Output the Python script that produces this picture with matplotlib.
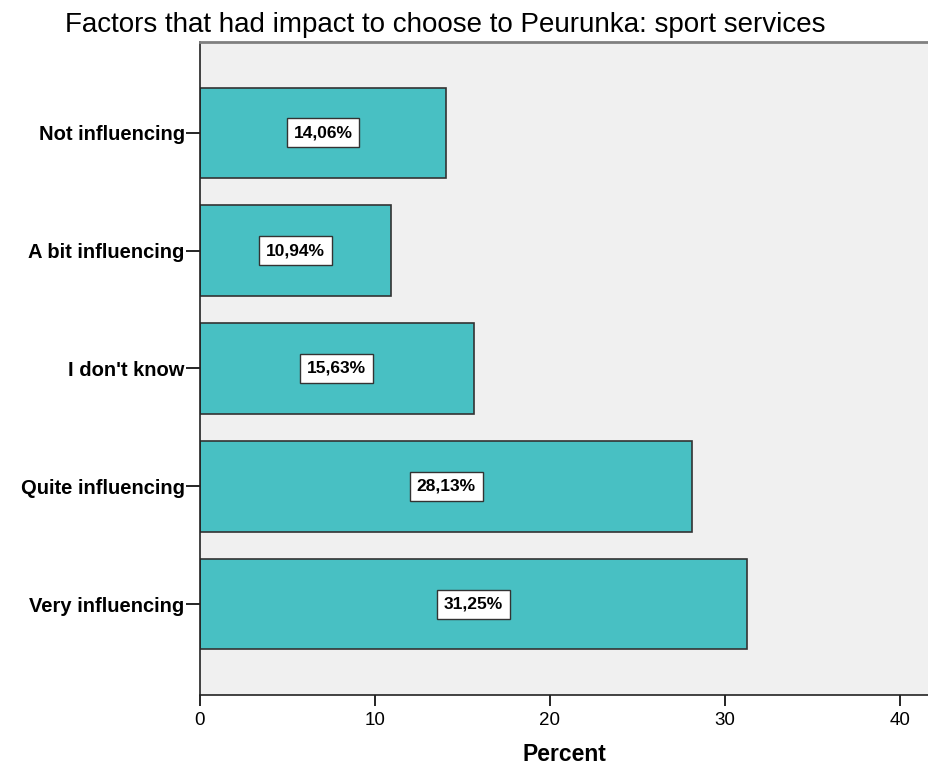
import matplotlib.pyplot as plt
import numpy as np

plt.rcParams['font.family'] = ['Liberation Sans', 'DejaVu Sans']

categories = ['Not influencing', 'A bit influencing', "I don't know",
              'Quite influencing', 'Very influencing']
percent = [14.06, 10.94, 15.63, 28.13, 31.25]
xticks = [0, 10, 20, 30, 40]

fig = plt.figure(figsize=(9.29, 7.68), dpi=100)
ax = fig.add_axes([200 / 929, 73 / 768, 1 - 200 / 929, (695 - 42) / 768])
ax.set_facecolor('#f0f0f0')

y = np.arange(len(categories))
ax.barh(y, percent, height=0.766, color='#48c0c3', edgecolor='#333333', linewidth=1.2)

for yi, v in zip(y, percent):
    ax.text(v / 2, yi, f'{v:.2f}%'.replace('.', ','), ha='center', va='center',
            fontsize=12.5, fontweight='bold',
            bbox=dict(boxstyle='square,pad=0.4', facecolor='white',
                      edgecolor='#333333', linewidth=1))

ax.set_xlim(0, 41.66)
ax.set_ylim(4.77, -0.77)
ax.set_yticks(y)
ax.set_yticklabels(categories, fontsize=14.5, fontweight='bold')
ax.set_xticks(xticks)
ax.set_xticklabels([str(t) for t in xticks], fontsize=13.5)
ax.tick_params(axis='y', length=10, width=1.2, pad=1)
ax.tick_params(axis='x', length=8, width=1.2, pad=4)

for side in ['left', 'bottom']:
    ax.spines[side].set_color('#222222')
    ax.spines[side].set_linewidth(1.2)
ax.spines['top'].set_color('#808080')
ax.spines['top'].set_linewidth(2)
ax.spines['right'].set_visible(False)

ax.set_xlabel('Percent', fontsize=16.5, fontweight='bold', labelpad=10)
fig.text(445 / 929, 1 - 25 / 768, 'Factors that had impact to choose to Peurunka: sport services',
         ha='center', va='center', fontsize=20)

fig.savefig('out.png', dpi=100)
